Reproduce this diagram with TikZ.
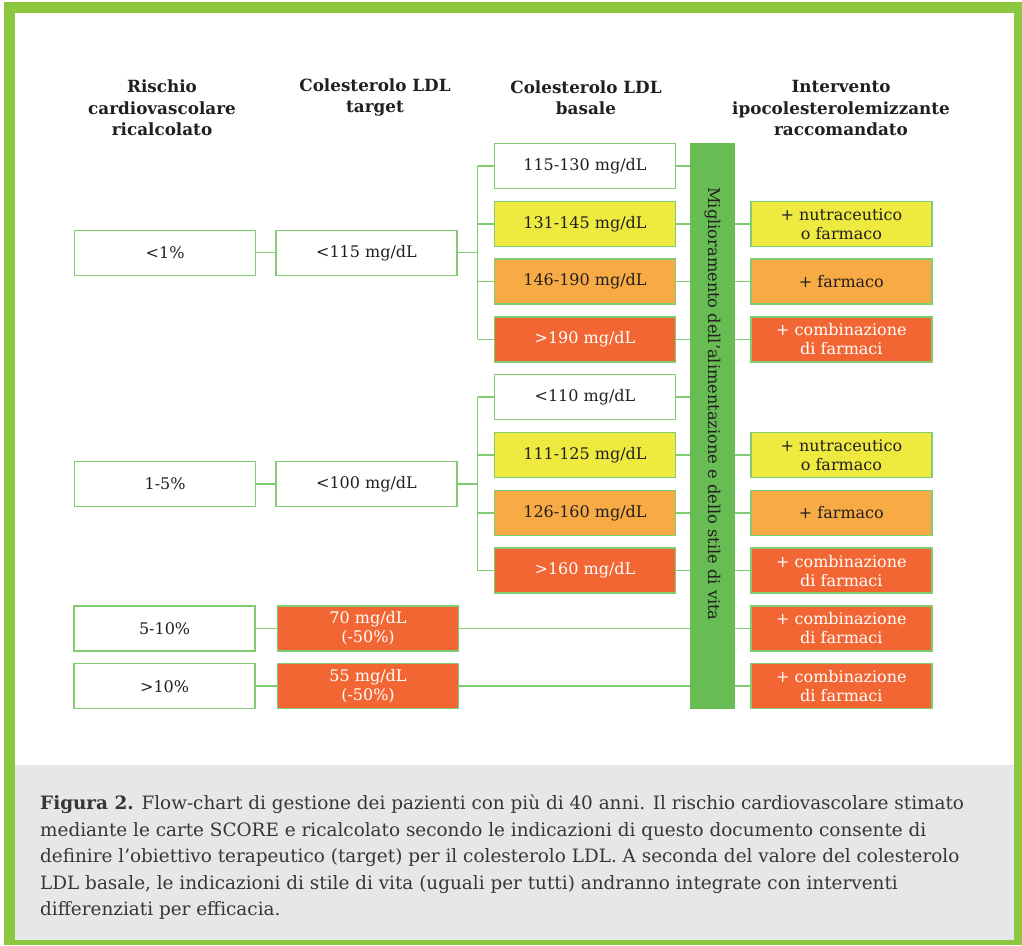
\documentclass[tikz,border=0pt]{standalone}
\usepackage{fontspec}
\setmainfont{DejaVu Serif}
\usetikzlibrary{positioning}

\definecolor{framegreen}{RGB}{141,198,63}
\definecolor{bargreen}{RGB}{104,188,84}
\definecolor{boxgreen}{RGB}{128,204,112}
\definecolor{lowyellow}{RGB}{239,234,64}
\definecolor{midorange}{RGB}{248,170,69}
\definecolor{highred}{RGB}{242,102,52}
\definecolor{capgray}{RGB}{230,231,232}
\definecolor{textdark}{RGB}{35,31,32}

\begin{document}
\begin{tikzpicture}[
  x=1pt, y=-1pt,
  node distance=11.4pt,
  every node/.style={font=\fontsize{16}{19}\selectfont, text=textdark},
  box/.style={rectangle, draw=boxgreen, line width=1.4pt, minimum width=181pt, minimum height=45pt, inner sep=1pt, align=center},
  lowbox/.style={box, fill=lowyellow},
  midbox/.style={box, fill=midorange},
  highbox/.style={box, fill=highred, text=white},
  head/.style={align=center, font=\fontsize{16.8}{21.5}\selectfont\bfseries},
  link/.style={draw=boxgreen, line width=1.5pt}
]
\useasboundingbox (0,0) rectangle (1022,945);

% Frame and caption panel
\fill[framegreen] (4,2) rectangle (1022,945);
\fill[white] (15,13) rectangle (1014,765);
\fill[capgray] (15,765) rectangle (1014,940);

% Headers
\node[head] (hrisk) at (162,108) {Rischio\\cardiovascolare\\ricalcolato};
\node[head] (htarget) at (375,97.5) {Colesterolo LDL\\target};
\node[head] (hbasal) at (586,97.5) {Colesterolo LDL\\basale};
\node[head] (hcure) at (841,108) {Intervento\\ipocolesterolemizzante\\raccomandato};

% Basal LDL column
\node[box] (b1) at (585,166) {115-130 mg/dL};
\node[lowbox, below=of b1] (b2) {131-145 mg/dL};
\node[midbox, below=of b2] (b3) {146-190 mg/dL};
\node[highbox, below=of b3] (b4) {>190 mg/dL};
\node[box, below=of b4] (b5) {<110 mg/dL};
\node[lowbox, below=of b5] (b6) {111-125 mg/dL};
\node[midbox, below=of b6] (b7) {126-160 mg/dL};
\node[highbox, below=of b7] (b8) {>160 mg/dL};

% Target and risk columns
\node[box] (t1) at (366.5,252.7) {<115 mg/dL};
\node[box, left=19pt of t1] (r1) {<1\%};
\node[box] (t2) at (366.5,483.9) {<100 mg/dL};
\node[box, left=19pt of t2] (r2) {1-5\%};
\node[highbox] (t3) at (368,628.4) {70 mg/dL\\(-50\%)};
\node[box, left=21pt of t3] (r3) {5-10\%};
\node[highbox, below=of t3] (t4) {55 mg/dL\\(-50\%)};
\node[box, left=21pt of t4] (r4) {>10\%};

% Lifestyle bar
\node[rectangle, fill=bargreen, minimum width=45pt, minimum height=566pt, inner sep=0pt] (bar) at (712.5,426) {};
\node[rotate=-90, font=\fontsize{16.2}{18}\selectfont] (life) at (712.5,404) {Miglioramento dell’alimentazione e dello stile di vita};

% Recommended intervention column
\node[lowbox, right=74pt of b2] (i2) {+ nutraceutico\\o farmaco};
\node[midbox, below=of i2] (i3) {+ farmaco};
\node[highbox, below=of i3] (i4) {+ combinazione\\di farmaci};
\node[lowbox, right=74pt of b6] (i6) {+ nutraceutico\\o farmaco};
\node[midbox, below=of i6] (i7) {+ farmaco};
\node[highbox, below=of i7] (i8) {+ combinazione\\di farmaci};
\node[highbox, below=of i8] (i9) {+ combinazione\\di farmaci};
\node[highbox, below=of i9] (i10) {+ combinazione\\di farmaci};

% Caption
\node[anchor=north west, align=left, inner sep=0pt, text=textdark!90,
      font=\fontsize{18.4}{26.4}\selectfont] (caption) at (40,795)
  {\textbf{Figura 2.} Flow-chart di gestione dei pazienti con più di 40 anni. Il rischio cardiovascolare stimato\\
   mediante le carte SCORE e ricalcolato secondo le indicazioni di questo documento consente di\\
   definire l’obiettivo terapeutico (target) per il colesterolo LDL. A seconda del valore del colesterolo\\
   LDL basale, le indicazioni di stile di vita (uguali per tutti) andranno integrate con interventi\\
   differenziati per efficacia.};

% Connectors
\coordinate[right=20pt of t1] (j1);
\coordinate[right=20pt of t2] (j2);
\draw[link] (r1) -- (t1);
\draw[link] (r2) -- (t2);
\draw[link] (r3) -- (t3);
\draw[link] (r4) -- (t4);
\draw[link] (t1) -- (j1);
\draw[link] (t2) -- (j2);
\draw[link] (j1 |- b1) -- (j1 |- b4);
\draw[link] (j2 |- b5) -- (j2 |- b8);
\draw[link] (j1 |- b1) -- (b1);
\draw[link] (j1 |- b2) -- (b2);
\draw[link] (j1 |- b3) -- (b3);
\draw[link] (j1 |- b4) -- (b4);
\draw[link] (j2 |- b5) -- (b5);
\draw[link] (j2 |- b6) -- (b6);
\draw[link] (j2 |- b7) -- (b7);
\draw[link] (j2 |- b8) -- (b8);
\draw[link] (b1) -- (b1 -| bar.west);
\draw[link] (b2) -- (b2 -| bar.west);
\draw[link] (b3) -- (b3 -| bar.west);
\draw[link] (b4) -- (b4 -| bar.west);
\draw[link] (b5) -- (b5 -| bar.west);
\draw[link] (b6) -- (b6 -| bar.west);
\draw[link] (b7) -- (b7 -| bar.west);
\draw[link] (b8) -- (b8 -| bar.west);
\draw[link] (t3) -- (t3 -| bar.west);
\draw[link] (t4) -- (t4 -| bar.west);
\draw[link] (i2 -| bar.east) -- (i2);
\draw[link] (i3 -| bar.east) -- (i3);
\draw[link] (i4 -| bar.east) -- (i4);
\draw[link] (i6 -| bar.east) -- (i6);
\draw[link] (i7 -| bar.east) -- (i7);
\draw[link] (i8 -| bar.east) -- (i8);
\draw[link] (i9 -| bar.east) -- (i9);
\draw[link] (i10 -| bar.east) -- (i10);

\end{tikzpicture}
\end{document}
